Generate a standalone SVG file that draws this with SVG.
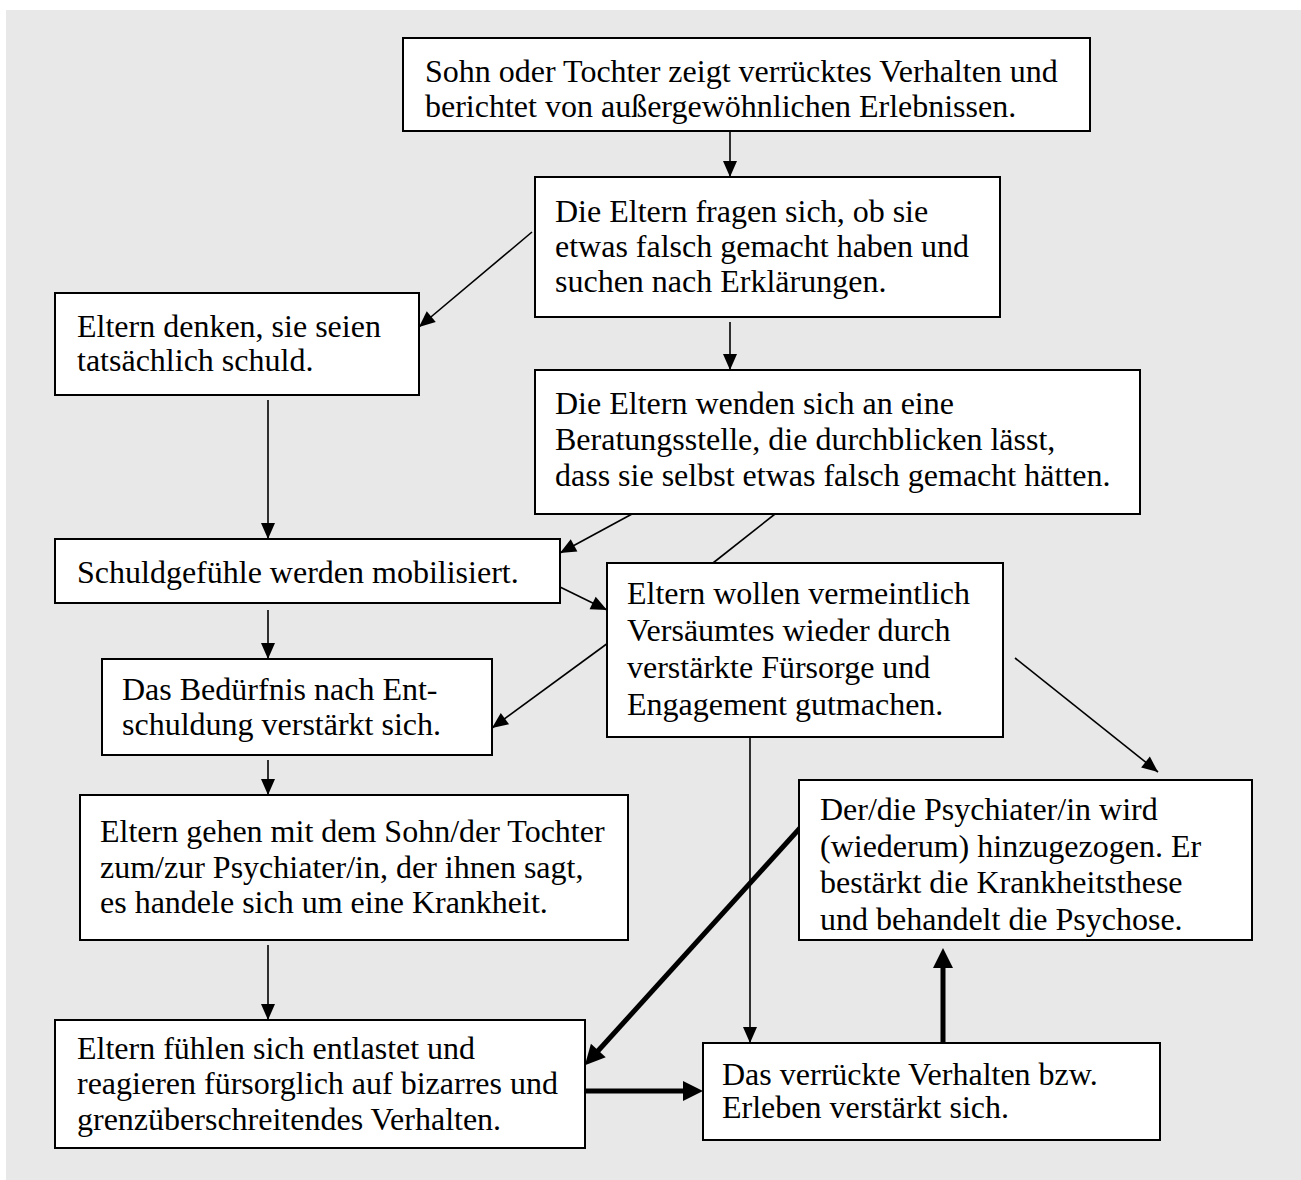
<svg xmlns="http://www.w3.org/2000/svg" width="1301" height="1180" viewBox="0 0 1301 1180">
<style>
.box{fill:#fff;stroke:#000;stroke-width:2}
.t{font-family:"Liberation Serif","Times New Roman",serif;font-size:32px;fill:#000}
.c{stroke:#000;stroke-width:1.6;fill:none;marker-end:url(#ah)}
.n{stroke:#000;stroke-width:1.6;fill:none}
.k{stroke:#000;stroke-width:5;fill:none;marker-end:url(#ahk)}
</style>
<defs>
<marker id="ah" markerUnits="userSpaceOnUse" markerWidth="16" markerHeight="14" refX="16" refY="7" orient="auto" overflow="visible"><path d="M0,0 L16,7 L0,14 z" fill="#000"/></marker>
<marker id="ahk" markerUnits="userSpaceOnUse" markerWidth="20" markerHeight="20" refX="2" refY="10" orient="auto" overflow="visible"><path d="M0,0 L20,10 L0,20 z" fill="#000"/></marker>
</defs>
<rect x="6" y="10" width="1295" height="1170" fill="#e8e8e8"/>
<g id="connectors">
<line class="c" x1="730" y1="132" x2="730" y2="177"/>
<line class="c" x1="532" y1="232" x2="419" y2="327"/>
<line class="c" x1="730" y1="322" x2="730" y2="370"/>
<line class="c" x1="268" y1="400" x2="268" y2="539"/>
<line class="c" x1="632" y1="514" x2="560" y2="553"/>
<line class="n" x1="775" y1="514" x2="713" y2="563"/>
<line class="c" x1="560" y1="587" x2="607" y2="610"/>
<line class="c" x1="268" y1="610" x2="268" y2="659"/>
<line class="c" x1="608" y1="643" x2="492" y2="728"/>
<line class="c" x1="1015" y1="658" x2="1158" y2="772"/>
<line class="c" x1="268" y1="760" x2="268" y2="795"/>
<line class="c" x1="750" y1="737" x2="750" y2="1043"/>
<line class="c" x1="268" y1="945" x2="268" y2="1020"/>
<line class="k" x1="800" y1="828" x2="597" y2="1052"/>
<line class="k" x1="585" y1="1091" x2="685" y2="1091"/>
<line class="k" x1="943" y1="1140" x2="943" y2="966"/>
</g>
<g id="n1"><rect class="box" x="403" y="38" width="687" height="93"/>
<text class="t" x="425" y="82">Sohn oder Tochter zeigt verrücktes Verhalten und</text>
<text class="t" x="425" y="117">berichtet von außergewöhnlichen Erlebnissen.</text></g>
<g id="n2"><rect class="box" x="535" y="177" width="465" height="140"/>
<text class="t" x="555" y="222">Die Eltern fragen sich, ob sie</text>
<text class="t" x="555" y="257">etwas falsch gemacht haben und</text>
<text class="t" x="555" y="292">suchen nach Erklärungen.</text></g>
<g id="n3"><rect class="box" x="55" y="293" width="364" height="102"/>
<text class="t" x="77" y="337">Eltern denken, sie seien</text>
<text class="t" x="77" y="371">tatsächlich schuld.</text></g>
<g id="n4"><rect class="box" x="535" y="370" width="605" height="144"/>
<text class="t" x="555" y="414">Die Eltern wenden sich an eine</text>
<text class="t" x="555" y="450">Beratungsstelle, die durchblicken lässt,</text>
<text class="t" x="555" y="486">dass sie selbst etwas falsch gemacht hätten.</text></g>
<g id="n5"><rect class="box" x="55" y="539" width="505" height="64"/>
<text class="t" x="77" y="583">Schuldgefühle werden mobilisiert.</text></g>
<g id="n6"><rect class="box" x="607" y="563" width="396" height="174"/>
<text class="t" x="627" y="604">Eltern wollen vermeintlich</text>
<text class="t" x="627" y="641">Versäumtes wieder durch</text>
<text class="t" x="627" y="678">verstärkte Fürsorge und</text>
<text class="t" x="627" y="715">Engagement gutmachen.</text></g>
<g id="n7"><rect class="box" x="102" y="659" width="390" height="96"/>
<text class="t" x="122" y="700">Das Bedürfnis nach Ent-</text>
<text class="t" x="122" y="735">schuldung verstärkt sich.</text></g>
<g id="n8"><rect class="box" x="80" y="795" width="548" height="145"/>
<text class="t" x="100" y="842">Eltern gehen mit dem Sohn/der Tochter</text>
<text class="t" x="100" y="878">zum/zur Psychiater/in, der ihnen sagt,</text>
<text class="t" x="100" y="913">es handele sich um eine Krankheit.</text></g>
<g id="n9"><rect class="box" x="799" y="780" width="453" height="160"/>
<text class="t" x="820" y="820">Der/die Psychiater/in wird</text>
<text class="t" x="820" y="857">(wiederum) hinzugezogen. Er</text>
<text class="t" x="820" y="893">bestärkt die Krankheitsthese</text>
<text class="t" x="820" y="930">und behandelt die Psychose.</text></g>
<g id="n10"><rect class="box" x="55" y="1020" width="530" height="128"/>
<text class="t" x="77" y="1059">Eltern fühlen sich entlastet und</text>
<text class="t" x="77" y="1094">reagieren fürsorglich auf bizarres und</text>
<text class="t" x="77" y="1130">grenzüberschreitendes Verhalten.</text></g>
<g id="n11"><rect class="box" x="703" y="1043" width="457" height="97"/>
<text class="t" x="722" y="1085">Das verrückte Verhalten bzw.</text>
<text class="t" x="722" y="1118">Erleben verstärkt sich.</text></g>
</svg>
